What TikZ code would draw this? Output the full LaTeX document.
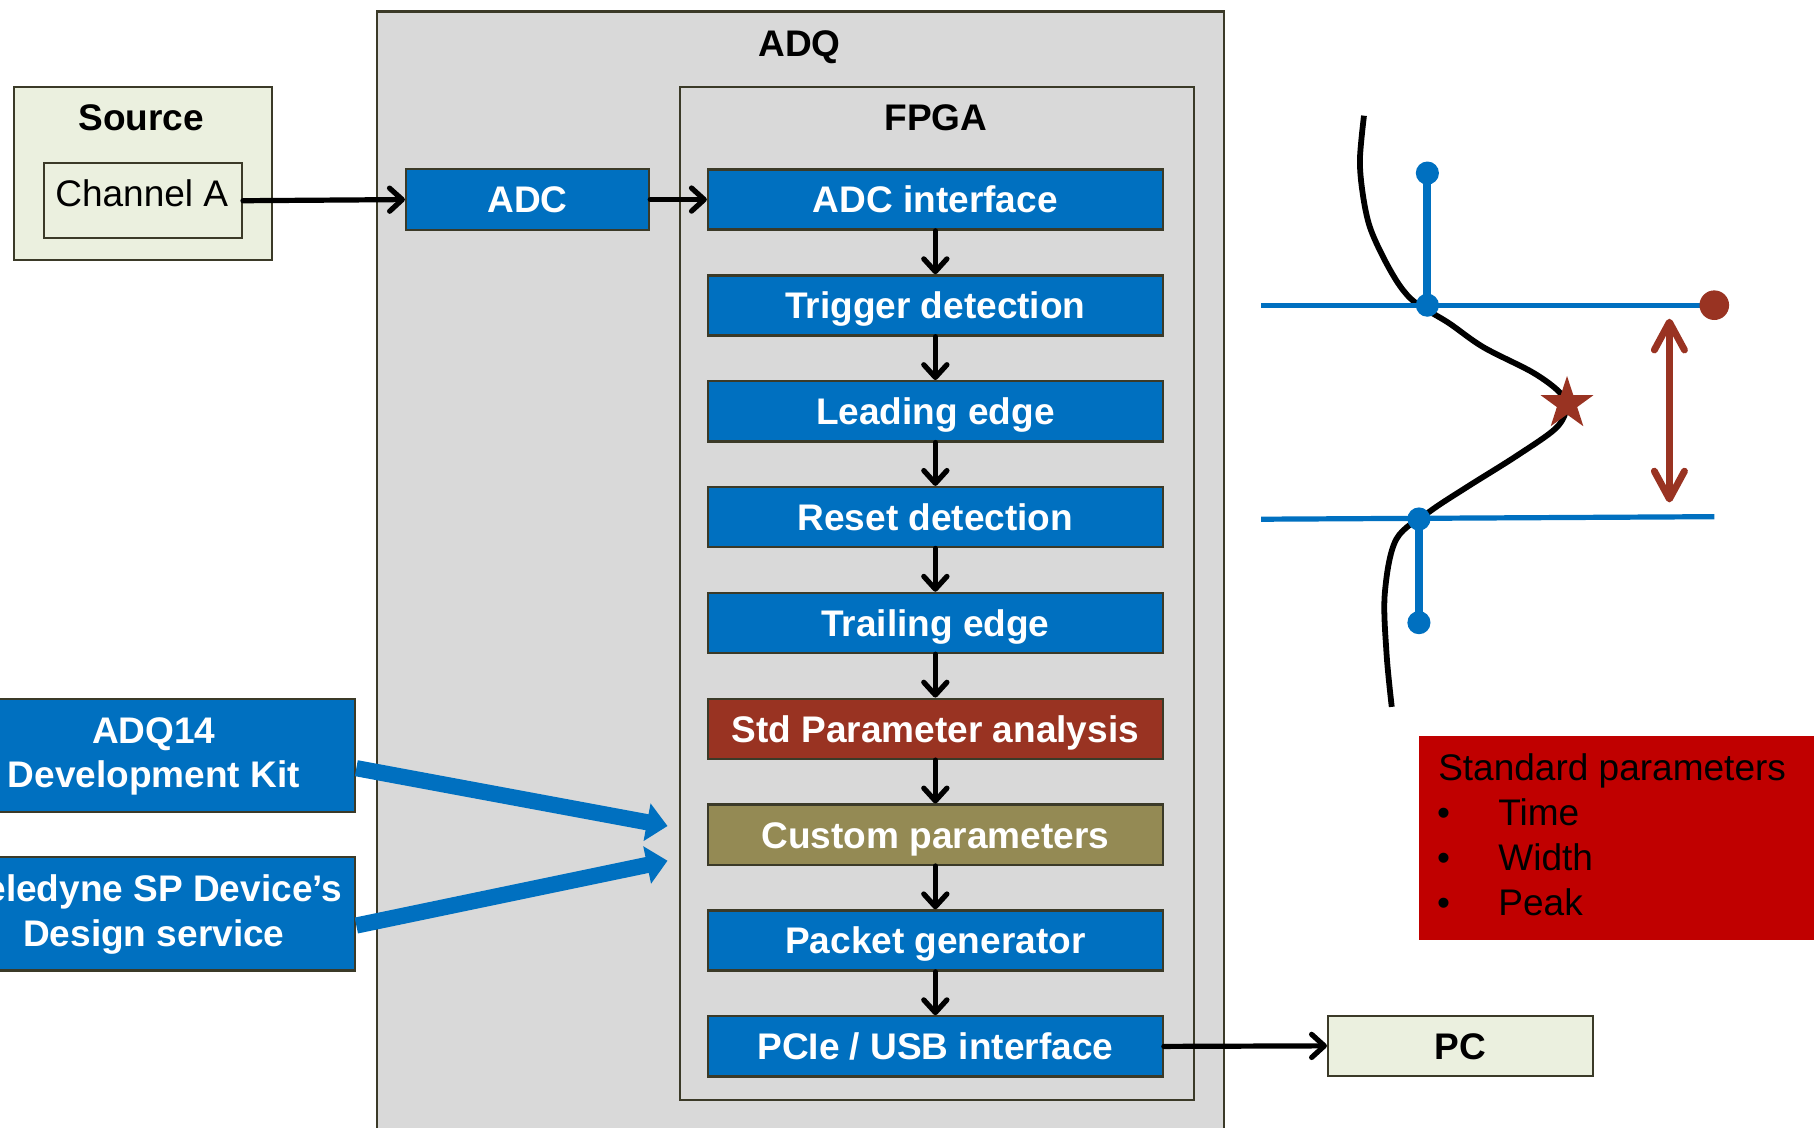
\documentclass[tikz,border=0pt]{standalone}
\usepackage{fontspec}
\setmainfont{Liberation Sans}
\usetikzlibrary{arrows.meta,shapes.geometric}
\definecolor{adqgray}{HTML}{D9D9D9}
\definecolor{lightbox}{HTML}{EBF0DF}
\definecolor{boxblue}{HTML}{0070C0}
\definecolor{darkred}{HTML}{993322}
\definecolor{olivebox}{HTML}{948A54}
\definecolor{stdred}{HTML}{C00000}
\definecolor{edgecol}{HTML}{3B3A28}
\begin{document}
\begin{tikzpicture}[x=1bp,y=-1bp,
  txt/.style={font=\fontsize{32bp}{38.4bp}\selectfont, inner sep=0pt},
  btxt/.style={font=\fontsize{32bp}{38.4bp}\selectfont\bfseries, inner sep=0pt},
  frame/.style={draw=edgecol, line width=2bp, inner sep=0pt},
  blk/.style={frame, fill=boxblue, text=white, btxt, minimum width=393bp, minimum height=52bp, text height=23bp, text depth=0bp},
  flow/.style={line width=4.5bp, line cap=round, -{Straight Barb[length=11bp,width=20bp,round]}},
  bigarrow/.style={draw=boxblue, line width=14bp, -{Triangle[length=18bp,width=32bp]}},
  bluedot/.style={fill=boxblue}
]
\useasboundingbox (0,0) rectangle (1568,975);
\clip (0,0) rectangle (1568,975);

% ADQ and FPGA frames
\node[frame, fill=adqgray, anchor=north west, minimum width=732bp, minimum height=990bp] (adq) at (325,9) {};
\node[btxt, anchor=base] (adqlabel) at (691,48.5) {ADQ};
\node[frame, fill=adqgray, anchor=north west, minimum width=444bp, minimum height=876bp] (fpga) at (587,74) {};
\node[btxt, anchor=base] (fpgalabel) at (809,112.5) {FPGA};

% Source
\node[frame, fill=lightbox, anchor=north west, minimum width=223bp, minimum height=150bp] (source) at (11,74) {};
\node[btxt, anchor=base] (sourcelabel) at (122,112.5) {Source};
\node[frame, fill=lightbox, anchor=north west, minimum width=171bp, minimum height=65bp] (cha) at (37,140) {};
\node[txt, anchor=base] (chalabel) at (122.5,178.5) {Channel A};

% ADC
\node[frame, fill=boxblue, text=white, btxt, minimum width=210bp, minimum height=53bp, text height=23bp, text depth=0bp] (adc) at (456,172.5) {ADC};

% FPGA stack
\node[blk] (adci) at (808.5,172.5) {ADC interface};
\node[blk] (trig) at (808.5,264) {Trigger detection};
\node[blk] (lead) at (808.5,355.5) {Leading edge};
\node[blk] (reset) at (808.5,447) {Reset detection};
\node[blk] (trail) at (808.5,538.5) {Trailing edge};
\node[blk, fill=darkred] (std) at (808.5,630) {Std Parameter analysis};
\node[blk, fill=olivebox] (cust) at (808.5,721.5) {Custom parameters};
\node[blk] (packet) at (808.5,813) {Packet generator};
\node[blk] (pcie) at (808.5,904.5) {PCIe / USB interface};

% PC
\node[frame, fill=lightbox, btxt, minimum width=229bp, minimum height=52bp, text height=23bp, text depth=0bp] (pc) at (1262.5,904) {PC};

% black flow arrows
\draw[flow] (cha.east) -- (adc.west);
\draw[flow] (adc.east) -- (adci.west);
\draw[flow] (adci.south) -- (trig.north);
\draw[flow] (trig.south) -- (lead.north);
\draw[flow] (lead.south) -- (reset.north);
\draw[flow] (reset.south) -- (trail.north);
\draw[flow] (trail.south) -- (std.north);
\draw[flow] (std.south) -- (cust.north);
\draw[flow] (cust.south) -- (packet.north);
\draw[flow] (packet.south) -- (pcie.north);
\draw[flow] (pcie.east) -- (pc.west);

% left blue boxes
\node[frame, fill=boxblue, anchor=north west, minimum width=346bp, minimum height=98bp] (devkit) at (-40,603) {};
\node[btxt, text=white, anchor=base] (devkit1) at (133,642.5) {ADQ14};
\node[btxt, text=white, anchor=base] (devkit2) at (133,680.5) {Development Kit};
\node[frame, fill=boxblue, anchor=north west, minimum width=346bp, minimum height=98bp] (design) at (-40,740) {};
\node[btxt, text=white, anchor=base] (design1) at (133,779.5) {Teledyne SP Device’s};
\node[btxt, text=white, anchor=base] (design2) at (133,818.5) {Design service};

\coordinate (tipA) at (577,714);
\coordinate (tipB) at (577,744);
\draw[bigarrow] ([yshift=-11bp]devkit.east) -- (tipA);
\draw[bigarrow] ([yshift=-10bp]design.east) -- (tipB);

% Standard parameters box
\node[fill=stdred, anchor=north west, minimum width=380bp, minimum height=176bp, inner sep=0pt] (stdbox) at (1226,636) {};
\node[txt, anchor=base west] (stdtitle) at (1243,674.5) {Standard parameters};
\node[txt, anchor=base west] (b1) at (1242,713.5) {•};
\node[txt, anchor=base west] (b2) at (1242,752.5) {•};
\node[txt, anchor=base west] (b3) at (1242,791.5) {•};
\node[txt, anchor=base west] (i1) at (1295,713.5) {Time};
\node[txt, anchor=base west] (i2) at (1295,752.5) {Width};
\node[txt, anchor=base west] (i3) at (1295,791.5) {Peak};

% pulse illustration
\draw[line width=5bp] plot[smooth, tension=0.55] coordinates {(1179,100) (1175.5,138) (1178,168) (1184,196) (1196,223) (1210,247) (1224,262) (1252,279) (1282,300) (1325,322) (1348,339) (1354,352) (1345,370) (1311,394) (1268,421) (1236,442) (1207,466) (1197,513) (1198.5,565) (1203,611)};
\draw[boxblue, line width=4.5bp] (1090,263.8) -- (1481.8,263.8);
\draw[boxblue, line width=4.5bp] (1090,448.8) -- (1481.8,446.6);
\draw[boxblue, line width=7bp] (1233.8,149.6) -- (1233.8,263.8);
\draw[boxblue, line width=6.5bp] (1226.5,448.6) -- (1226.5,538.2);
\fill[bluedot] (1233.8,149.6) circle[radius=10bp];
\fill[bluedot] (1233.8,263.8) circle[radius=10bp];
\fill[bluedot] (1226.5,448.6) circle[radius=10bp];
\fill[bluedot] (1226.5,538.2) circle[radius=10bp];
\fill[darkred] (1481.8,263.8) circle[radius=12.8bp];
\node[star, star points=5, star point ratio=2.6, fill=darkred, minimum size=48bp, inner sep=0pt] (peak) at (1354.5,349) {};
\draw[darkred, line width=6bp, {Straight Barb[length=24bp,width=26bp,round]}-{Straight Barb[length=24bp,width=26bp,round]}] (1443,275.5) -- (1443,434.3);
\end{tikzpicture}
\end{document}
